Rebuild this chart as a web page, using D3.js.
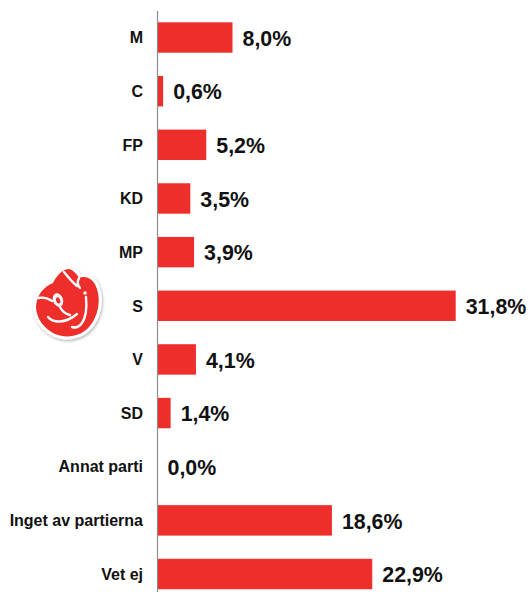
<!DOCTYPE html>
<html>
<head>
<meta charset="utf-8">
<script src="https://cdn.jsdelivr.net/npm/d3@7"></script>
<style>
html,body{margin:0;padding:0;background:#fff;}
svg{display:block;}
text{font-family:Arial,"Liberation Sans",Helvetica,sans-serif;font-weight:bold;}
</style>
</head>
<body>
<svg id="chart" width="530" height="592"></svg>
<script>
const categories = ["M","C","FP","KD","MP","S","V","SD","Annat parti","Inget av partierna","Vet ej"];
const values = [8.0,0.6,5.2,3.5,3.9,31.8,4.1,1.4,0.0,18.6,22.9];
const valueLabels = ["8,0%","0,6%","5,2%","3,5%","3,9%","31,8%","4,1%","1,4%","0,0%","18,6%","22,9%"];

const svg = d3.select("#chart");
const barColor = "#ee2e2a";

const y = d3.scaleBand()
  .domain(categories)
  .range([10.7, 600.85])
  .paddingInner(0.433)
  .paddingOuter(0.2165);

const x = d3.scaleLinear()
  .domain([0, 31.8])
  .range([157.5, 455.7]);

// bars
svg.append("g").selectAll("rect")
  .data(categories)
  .join("rect")
  .attr("x", x(0))
  .attr("y", d => y(d))
  .attr("width", (d,i) => x(values[i]) - x(0))
  .attr("height", y.bandwidth())
  .attr("fill", barColor);

// axis line (no ticks)
const axis = d3.axisLeft(y).tickSize(0).tickFormat("");
const ag = svg.append("g").attr("transform", `translate(${x(0)},0)`).call(axis);
ag.select(".domain").attr("stroke", "#8c8c8c").attr("stroke-width", 1.2)
  .attr("d", `M0,11V592`);

// category labels
svg.append("g").selectAll("text")
  .data(categories)
  .join("text")
  .attr("x", 143)
  .attr("y", d => y(d) + y.bandwidth()/2)
  .attr("dy", "0.36em")
  .attr("text-anchor", "end")
  .attr("font-size", 16)
  .attr("fill", "#111")
  .text(d => d);

// value labels
svg.append("g").selectAll("text")
  .data(categories)
  .join("text")
  .attr("transform", (d,i) => `translate(${x(values[i]) + 10},${y(d) + y.bandwidth()/2}) scale(0.93,1)`)
  .attr("dy", "0.36em")
  .attr("font-size", 23)
  .attr("fill", "#111")
  .text((d,i) => valueLabels[i]);

// Social democratic rose logo
const defs = svg.append("defs");
const f = defs.append("filter").attr("id","sh").attr("x","-20%").attr("y","-20%").attr("width","140%").attr("height","140%");
f.append("feDropShadow").attr("dx",1).attr("dy",1.5).attr("stdDeviation",1.5).attr("flood-color","#000").attr("flood-opacity",0.3);

const logo = svg.append("g").attr("transform","translate(25,265)");
const outer = "M 28 18 C 32 10, 38 4, 44 4 C 48 5, 52 9, 54 13 C 61 10, 69 14, 72 24 C 76 36, 73 52, 64 62 C 56 71, 42 74, 30 69 C 20 64, 12 55, 11 43 C 11 35, 14 28, 20 23 C 22 21, 25 19, 28 18 Z";
logo.append("path").attr("d", outer).attr("fill","#fff").attr("stroke","#fff").attr("stroke-width",6).attr("stroke-linejoin","round").attr("filter","url(#sh)");
logo.append("path").attr("d", outer).attr("fill", barColor);
const w = logo.append("g").attr("fill","none").attr("stroke","#fff").attr("stroke-width",2.4).attr("stroke-linecap","round");
w.append("path").attr("d","M 39 7 C 43 12, 47 17, 52 21");
w.append("path").attr("d","M 54 13 C 52 17, 52 20, 55 23");
w.append("path").attr("d","M 13 33 C 18 32, 23 33, 27 36");
w.append("path").attr("d","M 35 42 C 37 46, 40 49, 45 50");
w.append("path").attr("d","M 23 52 C 28 58, 40 59, 52 49");
w.append("path").attr("d","M 61 32 C 62 42, 61 52, 57 58 C 54 62, 50 63, 47 62");
logo.append("ellipse").attr("cx",33).attr("cy",35).attr("rx",5).attr("ry",7).attr("transform","rotate(-20,33,35)").attr("fill","#fff");
logo.append("ellipse").attr("cx",33).attr("cy",35.5).attr("rx",2).attr("ry",3.2).attr("transform","rotate(-20,33,35)").attr("fill",barColor);
logo.append("circle").attr("cx",60).attr("cy",28).attr("r",1.8).attr("fill","#fff");
</script>
</body>
</html>
